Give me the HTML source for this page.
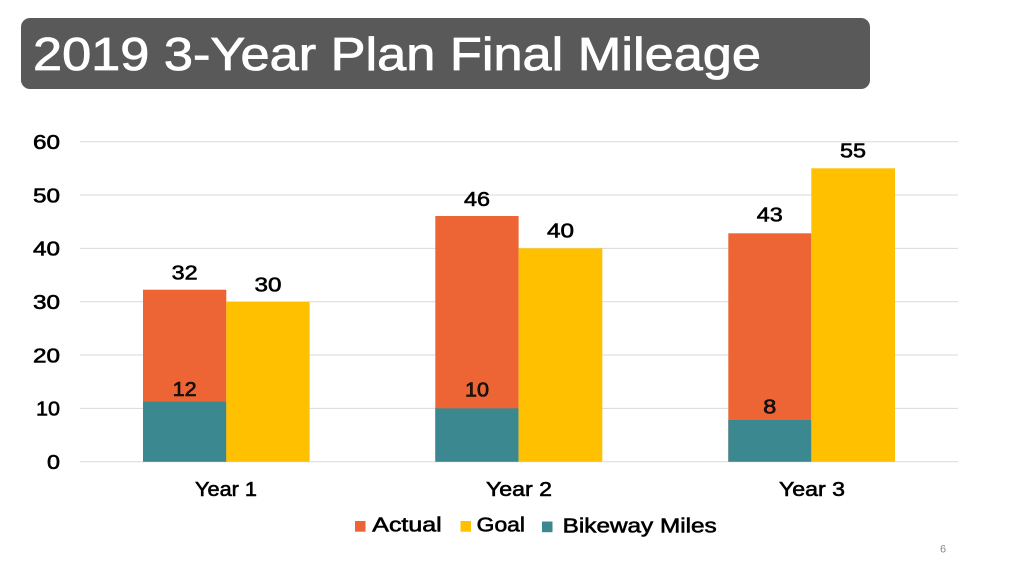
<!DOCTYPE html>
<html>
<head>
<meta charset="utf-8">
<style>
  html, body { margin:0; padding:0; background:#ffffff; }
  svg { display:block; }
  text { font-family: "Liberation Sans", "DejaVu Sans", sans-serif; }
</style>
</head>
<body>
<svg width="1024" height="576" viewBox="0 0 1024 576" xmlns="http://www.w3.org/2000/svg">
  <rect x="0" y="0" width="1024" height="576" fill="#ffffff"/>

  <!-- Title box -->
  <rect x="21" y="18" width="849" height="71" rx="9" ry="9" fill="#595959"/>
  <text x="33" y="70" font-size="46" fill="#ffffff" stroke="#ffffff" stroke-width="0.8" textLength="728" lengthAdjust="spacingAndGlyphs">2019 3-Year Plan Final Mileage</text>

  <!-- Gridlines -->
  <g stroke="#d9d9d9" stroke-width="1">
    <line x1="80" y1="141.7" x2="958" y2="141.7"/>
    <line x1="80" y1="195" x2="958" y2="195"/>
    <line x1="80" y1="248.4" x2="958" y2="248.4"/>
    <line x1="80" y1="301.7" x2="958" y2="301.7"/>
    <line x1="80" y1="355" x2="958" y2="355"/>
    <line x1="80" y1="408.4" x2="958" y2="408.4"/>
    <line x1="80" y1="461.7" x2="958" y2="461.7"/>
  </g>

  <!-- Y axis labels -->
  <g font-size="20" fill="#000000" stroke="#000" stroke-width="0.6" text-anchor="end">
    <text x="60" y="149" textLength="27" lengthAdjust="spacingAndGlyphs">60</text>
    <text x="60" y="202.3" textLength="27" lengthAdjust="spacingAndGlyphs">50</text>
    <text x="60" y="255.7" textLength="27" lengthAdjust="spacingAndGlyphs">40</text>
    <text x="60" y="309" textLength="27" lengthAdjust="spacingAndGlyphs">30</text>
    <text x="60" y="362.3" textLength="27" lengthAdjust="spacingAndGlyphs">20</text>
    <text x="60" y="415.7" textLength="24" lengthAdjust="spacingAndGlyphs">10</text>
    <text x="60" y="469" textLength="13" lengthAdjust="spacingAndGlyphs">0</text>
  </g>

  <!-- Bars Year 1 -->
  <rect x="143" y="289.7" width="83.3" height="172" fill="#ED6535"/>
  <rect x="143" y="401.7" width="83.3" height="60" fill="#3C8891"/>
  <rect x="226.3" y="302" width="83.3" height="159.7" fill="#FFC000"/>
  <!-- Bars Year 2 -->
  <rect x="435.3" y="216" width="83.3" height="245.7" fill="#ED6535"/>
  <rect x="435.3" y="408.3" width="83.3" height="53.4" fill="#3C8891"/>
  <rect x="518.6" y="248.3" width="83.7" height="213.4" fill="#FFC000"/>
  <!-- Bars Year 3 -->
  <rect x="728.3" y="233.3" width="83" height="228.4" fill="#ED6535"/>
  <rect x="728.3" y="420" width="83" height="41.7" fill="#3C8891"/>
  <rect x="811.3" y="168.3" width="83.7" height="293.4" fill="#FFC000"/>

  <!-- Data labels -->
  <g font-size="20" fill="#000000" stroke="#000" stroke-width="0.6" text-anchor="middle">
    <text x="184.6" y="279.3" textLength="26" lengthAdjust="spacingAndGlyphs">32</text>
    <text x="268" y="291.7" textLength="27" lengthAdjust="spacingAndGlyphs">30</text>
    <text x="184.6" y="396" fill="#1a1a1a" textLength="24" lengthAdjust="spacingAndGlyphs">12</text>

    <text x="477" y="206" textLength="26" lengthAdjust="spacingAndGlyphs">46</text>
    <text x="560.5" y="237.3" textLength="27" lengthAdjust="spacingAndGlyphs">40</text>
    <text x="477" y="396.7" fill="#1a1a1a" textLength="24" lengthAdjust="spacingAndGlyphs">10</text>

    <text x="769.8" y="221.7" textLength="26" lengthAdjust="spacingAndGlyphs">43</text>
    <text x="853" y="157.3" textLength="26" lengthAdjust="spacingAndGlyphs">55</text>
    <text x="769.8" y="413.3" fill="#1a1a1a" textLength="13" lengthAdjust="spacingAndGlyphs">8</text>
  </g>

  <!-- X axis labels -->
  <g font-size="20.5" fill="#000000" stroke="#000" stroke-width="0.6" text-anchor="middle">
    <text x="226" y="496" textLength="62" lengthAdjust="spacingAndGlyphs">Year 1</text>
    <text x="519" y="496" textLength="66" lengthAdjust="spacingAndGlyphs">Year 2</text>
    <text x="812" y="496" textLength="66" lengthAdjust="spacingAndGlyphs">Year 3</text>
  </g>

  <!-- Legend -->
  <rect x="355" y="521" width="10.5" height="10.7" fill="#ED6535"/>
  <rect x="460.5" y="521" width="10.5" height="10.7" fill="#FFC000"/>
  <rect x="542" y="521.5" width="10.5" height="10.7" fill="#3C8891"/>
  <g font-size="20" fill="#000000" stroke="#000" stroke-width="0.6">
    <text x="372.3" y="531.7" textLength="69.4" lengthAdjust="spacingAndGlyphs">Actual</text>
    <text x="476.7" y="531.7" textLength="48.3" lengthAdjust="spacingAndGlyphs">Goal</text>
    <text x="562.7" y="532.5" textLength="154" lengthAdjust="spacingAndGlyphs">Bikeway Miles</text>
  </g>

  <!-- Page number -->
  <text x="943" y="552.5" font-size="11" fill="#8a8a8a" text-anchor="middle">6</text>
</svg>
</body>
</html>
